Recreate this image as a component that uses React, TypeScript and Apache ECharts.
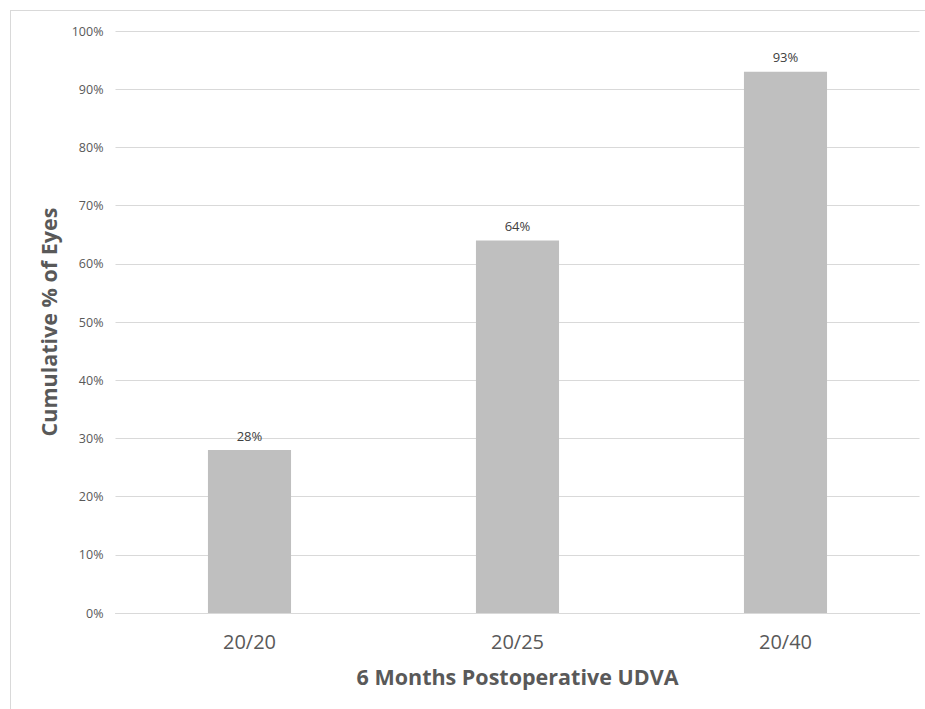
import React, { useEffect, useRef } from "react";
import * as echarts from "echarts";

const categories = ["20/20", "20/25", "20/40"];
const values = [28, 64, 93];
const yTicks = [0, 10, 20, 30, 40, 50, 60, 70, 80, 90, 100];

export default function App() {
  const ref = useRef<HTMLDivElement>(null);
  useEffect(() => {
    if (!ref.current) return;
    const chart = echarts.init(ref.current, null, { renderer: "svg" });
    chart.setOption({
      animation: false,
      backgroundColor: "#ffffff",
      textStyle: { fontFamily: "Open Sans" },
      graphic: [
        { type: "line", shape: { x1: 10, y1: 10.5, x2: 925, y2: 10.5 }, style: { stroke: "#d9d9d9", lineWidth: 1 } },
        { type: "line", shape: { x1: 10.5, y1: 10, x2: 10.5, y2: 709 }, style: { stroke: "#d9d9d9", lineWidth: 1 } },
      ],
      grid: { left: 115.5, right: 5.5, top: 31, bottom: 96, containLabel: false },
      xAxis: {
        type: "category",
        data: categories,
        axisLine: { show: true, lineStyle: { color: "#d9d9d9", width: 1 } },
        axisTick: { show: false },
        axisLabel: { color: "#595959", fontSize: 20, margin: 18 },
        name: "6 Months Postoperative UDVA",
        nameLocation: "middle",
        nameGap: 52,
        nameTextStyle: { color: "#595959", fontSize: 21.5, fontWeight: "bold" },
      },
      yAxis: {
        type: "value",
        min: 0,
        max: 100,
        interval: 10,
        axisLine: { show: false },
        axisTick: { show: false },
        splitLine: { lineStyle: { color: "#d9d9d9", width: 1 } },
        axisLabel: {
          color: "#595959",
          fontSize: 12.5,
          margin: 12,
          formatter: (v: number) => (yTicks.includes(v) ? v + "%" : ""),
        },
        name: "Cumulative % of Eyes",
        nameLocation: "middle",
        nameGap: 56,
        nameTextStyle: { color: "#595959", fontSize: 21.5, fontWeight: "bold" },
      },
      series: [
        {
          type: "bar",
          data: values,
          barWidth: "31%",
          itemStyle: { color: "#bfbfbf" },
          label: {
            show: true,
            position: "top",
            formatter: "{c}%",
            color: "#404040",
            fontSize: 13,
            distance: 8,
          },
        },
      ],
    });
    return () => chart.dispose();
  }, []);
  return (
    <div
      ref={ref}
      style={{ position: "fixed", left: 0, top: 0, width: 925, height: 709 }}
    />
  );
}
